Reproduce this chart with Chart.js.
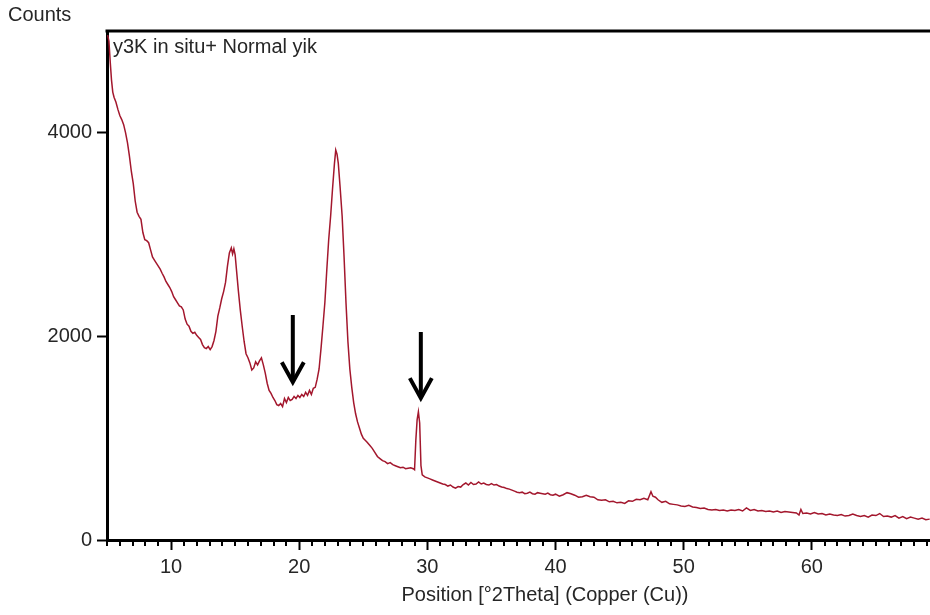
<!DOCTYPE html>
<html>
<head>
<meta charset="utf-8">
<script src="https://cdn.jsdelivr.net/npm/chart.js@4/dist/chart.umd.min.js"></script>
<style>
  html, body { margin: 0; padding: 0; background: #ffffff; }
  #wrap { width: 930px; height: 615px; overflow: hidden; position: relative; }
  #c { display: block; }
</style>
</head>
<body>
<div id="wrap"><canvas id="c" width="985" height="615"></canvas></div>
<script>
// ---- data ----
const seriesLabel = 'y3K in situ+ Normal yik';
const yTitle = 'Counts';
const xTitle = 'Position [°2Theta] (Copper (Cu))';
const xTickValues = [10, 20, 30, 40, 50, 60];
const yTickValues = [0, 2000, 4000];

const twoTheta = [
  5.05,5.15,5.25,5.35,5.45,5.55,5.7,5.85,6.0,6.15,6.3,6.45,6.6,6.75,6.9,7.05,7.2,7.35,7.5,7.65,7.8,7.95,
  8.1,8.25,8.4,8.55,8.7,8.85,9.0,9.15,9.3,9.45,9.6,9.75,9.9,10.05,10.2,10.35,10.5,10.65,10.8,10.95,
  11.1,11.25,11.4,11.55,11.7,11.85,12.0,12.15,12.3,12.45,12.6,12.75,12.9,13.05,13.2,13.35,13.5,13.65,
  13.8,13.95,14.1,14.25,14.4,14.55,14.7,14.8,14.9,15.0,15.1,15.25,15.4,15.55,15.7,15.85,16.0,16.15,
  16.3,16.45,16.6,16.75,16.9,17.05,17.2,17.35,17.5,17.65,17.8,17.95,18.1,18.25,18.4,18.55,18.7,18.85,
  19.0,19.15,19.3,19.45,19.6,19.75,19.9,20.05,20.2,20.35,20.5,20.65,20.8,20.95,21.1,21.25,21.4,21.55,
  21.7,21.85,22.0,22.15,22.3,22.45,22.6,22.75,22.85,22.95,23.05,23.2,23.35,23.5,23.65,23.8,23.95,24.1,
  24.25,24.4,24.55,24.7,24.85,25.0,25.15,25.3,25.5,25.7,25.9,26.1,26.3,26.5,26.7,26.9,27.1,27.3,27.5,
  27.7,27.9,28.1,28.3,28.5,28.7,28.9,29.0,29.1,29.2,29.3,29.4,29.5,29.6,29.8,30.0,30.2,30.4,30.6,30.8,
  31.0,31.2,31.4,31.6,31.8,32.0,32.2,32.4,32.6,32.8,33.0,33.2,33.4,33.6,33.8,34.0,34.2,34.4,34.6,34.8,
  35.0,35.2,35.4,35.6,35.8,36.0,36.2,36.4,36.6,36.8,37.0,37.2,37.4,37.6,37.8,38.0,38.2,38.4,38.6,38.8,
  39.0,39.2,39.4,39.6,39.8,40.0,40.3,40.6,40.9,41.2,41.5,41.8,42.1,42.4,42.7,43.0,43.3,43.6,43.9,44.2,
  44.5,44.8,45.1,45.4,45.7,46.0,46.3,46.6,46.9,47.2,47.45,47.6,47.8,48.0,48.3,48.6,48.9,49.2,49.5,49.8,
  50.1,50.4,50.7,51.0,51.3,51.6,51.9,52.2,52.5,52.8,53.1,53.4,53.7,54.0,54.3,54.6,54.9,55.2,55.5,55.8,
  56.1,56.4,56.7,57.0,57.3,57.6,57.9,58.2,58.5,58.8,59.0,59.15,59.3,59.6,59.9,60.2,60.5,60.8,61.1,61.4,
  61.7,62.0,62.3,62.6,62.9,63.2,63.5,63.8,64.1,64.4,64.7,65.0,65.3,65.6,65.9,66.2,66.5,66.8,67.1,67.4,
  67.7,68.0,68.3,68.6,68.9,69.2
];

const counts = [
  4960,4900,4700,4520,4400,4350,4300,4230,4170,4130,4080,4000,3900,3770,3620,3500,3330,3220,3180,3150,3020,2950,
  2940,2920,2850,2780,2750,2720,2690,2660,2620,2585,2540,2510,2480,2440,2390,2360,2330,2300,2290,2260,
  2170,2120,2100,2050,2030,2040,2010,1990,1970,1920,1890,1880,1900,1870,1900,1960,2050,2200,
  2280,2370,2440,2530,2690,2820,2870,2810,2860,2800,2660,2450,2260,2100,1950,1830,1790,1740,
  1670,1690,1750,1720,1760,1790,1720,1640,1540,1470,1440,1400,1370,1330,1320,1340,1310,1390,
  1350,1400,1370,1380,1410,1390,1420,1400,1430,1410,1450,1420,1470,1430,1490,1500,1580,1680,
  1880,2100,2330,2650,2950,3180,3450,3700,3830,3790,3700,3450,3180,2780,2330,1950,1680,1500,
  1350,1240,1160,1100,1040,1000,980,960,930,900,860,820,800,780,770,750,760,740,730,
  720,710,715,700,705,710,700,690,980,1180,1260,1150,730,640,620,610,600,590,580,570,
  560,550,545,530,540,520,510,525,520,545,560,540,565,545,550,570,550,560,545,540,
  555,540,545,530,520,515,505,500,490,480,470,465,470,455,460,470,455,450,465,460,
  455,450,460,445,440,450,430,445,465,455,440,420,425,440,425,420,395,390,395,375,
  380,365,370,360,385,380,400,395,410,395,475,430,420,395,370,380,355,350,345,335,
  330,340,325,320,310,315,300,295,300,290,295,285,295,290,300,285,315,290,300,285,
  290,280,285,275,285,270,280,275,270,265,245,300,260,265,255,270,255,260,245,255,
  245,240,250,235,240,255,240,230,240,225,245,240,260,230,235,225,240,215,230,210,
  225,215,205,215,200,205
];

// annotation arrows (x in °2θ, from/to in counts)
const arrowX = [19.5, 29.49];
const arrowFrom = [2210, 2043];
const arrowTo = [1550, 1394];

// ---- chart ----
const FONT = "'Liberation Sans', Arial, sans-serif";
const TEXT = '#262626';

const decorPlugin = {
  id: 'decor',
  afterDraw(chart) {
    const {ctx, chartArea: a, scales: {x, y}} = chart;
    ctx.save();
    // top frame line
    ctx.strokeStyle = '#000';
    ctx.lineWidth = 3;
    ctx.beginPath();
    ctx.moveTo(a.left - 1.5, a.top);
    ctx.lineTo(a.right, a.top);
    ctx.stroke();
    // minor x ticks
    ctx.lineWidth = 2;
    ctx.beginPath();
    for (let v = Math.ceil(x.min); v <= Math.floor(x.max); v++) {
      if (v % 10 === 0) continue;
      const px = Math.round(x.getPixelForValue(v));
      ctx.moveTo(px, a.bottom);
      ctx.lineTo(px, a.bottom + 6);
    }
    ctx.stroke();
    // series label inside the plot
    ctx.fillStyle = TEXT;
    ctx.font = '20px ' + FONT;
    ctx.textAlign = 'left';
    ctx.textBaseline = 'middle';
    ctx.fillText(chart.data.datasets[0].label, a.left + 6, a.top + 16);
    // arrows
    ctx.strokeStyle = '#000';
    ctx.lineWidth = 4;
    ctx.lineJoin = 'miter';
    for (let i = 0; i < arrowX.length; i++) {
      const px = x.getPixelForValue(arrowX[i]);
      const y0 = y.getPixelForValue(arrowFrom[i]);
      const y1 = y.getPixelForValue(arrowTo[i]);
      ctx.beginPath();
      ctx.moveTo(px, y0);
      ctx.lineTo(px, y1 - 2);
      ctx.stroke();
      ctx.beginPath();
      ctx.moveTo(px - 11, y1 - 20);
      ctx.lineTo(px, y1);
      ctx.lineTo(px + 11, y1 - 20);
      ctx.stroke();
    }
    ctx.restore();
  }
};

new Chart(document.getElementById('c'), {
  type: 'scatter',
  data: {
    datasets: [{
      label: seriesLabel,
      data: twoTheta.map((t, i) => ({x: t, y: counts[i]})),
      showLine: true,
      borderColor: '#a3172d',
      borderWidth: 1.5,
      pointRadius: 0,
      tension: 0,
      fill: false
    }]
  },
  options: {
    responsive: false,
    devicePixelRatio: 1,
    animation: false,
    layout: { padding: { left: 8, right: 2, top: 0, bottom: 0 } },
    plugins: {
      legend: { display: false },
      tooltip: { enabled: false },
      title: {
        display: true,
        text: yTitle,
        align: 'start',
        color: TEXT,
        font: { family: FONT, size: 20, weight: 'normal' },
        padding: { top: 3, bottom: 4 }
      }
    },
    scales: {
      x: {
        type: 'linear',
        min: 5,
        max: 73.36,
        afterFit(scale) { scale.height = 75; },
        afterBuildTicks(scale) { scale.ticks = xTickValues.map(v => ({value: v})); },
        border: { display: true, color: '#000', width: 3 },
        grid: { display: true, drawOnChartArea: false, drawTicks: true, tickLength: 10, tickColor: '#000', tickWidth: 2 },
        ticks: { color: TEXT, font: { family: FONT, size: 20 }, padding: 5, maxRotation: 0, autoSkip: false,
                 callback: (v) => String(v) },
        title: {
          display: true,
          text: xTitle,
          color: TEXT,
          font: { family: FONT, size: 20 },
          padding: { top: 0, bottom: 8 }
        }
      },
      y: {
        type: 'linear',
        min: 0,
        max: 5000,
        afterFit(scale) { scale.width = 99; },
        afterBuildTicks(scale) { scale.ticks = yTickValues.map(v => ({value: v})); },
        border: { display: true, color: '#000', width: 3 },
        grid: { display: true, drawOnChartArea: false, drawTicks: true, tickLength: 10, tickColor: '#000', tickWidth: 2 },
        ticks: { color: TEXT, font: { family: FONT, size: 20 }, padding: 5, callback: (v) => String(v) }
      }
    }
  },
  plugins: [decorPlugin]
});
</script>
</body>
</html>
